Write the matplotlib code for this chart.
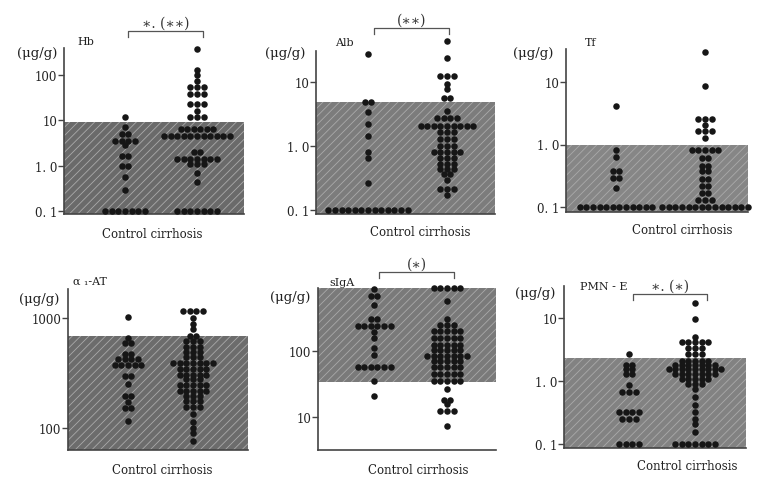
import numpy as np
import matplotlib
matplotlib.use('Agg')
import matplotlib.pyplot as plt
from matplotlib.patches import Rectangle
from matplotlib.ticker import NullLocator
from collections import Counter

# ── Data (µg/g) ───────────────────────────────────────────────
hb_control = [12, 7.2] + [5]*2 + [3.5]*4 + [2.8] + [1.65]*2 + [1.0]*2 + [0.55, 0.29] + [0.1]*7
hb_cirrhosis = ([375, 131, 100, 75] + [53]*3 + [39]*3 + [23]*3 + [16] + [11.6]*3
                + [6.5]*6 + [4.6]*11 + [2.0]*2 + [1.4]*7 + [1.08]*3 + [0.68, 0.43] + [0.1]*7)

alb_control = [27] + [4.8]*2 + [3.4, 2.2, 1.45, 0.8, 0.64, 0.26] + [0.1]*13
alb_cirrhosis = ([44, 23.6] + [12.3]*3 + [9.3, 7.8] + [5.7]*2 + [3.5] + [2.7]*4 + [2.07]*9
                 + [1.64]*3 + [1.29]*3 + [1.01]*3 + [0.8]*5 + [0.64]*3 + [0.52]*3 + [0.44]*3
                 + [0.36]*2 + [0.29] + [0.21]*3 + [0.17])

tf_control = [4.2, 0.82, 0.62] + [0.38]*2 + [0.29]*2 + [0.2] + [0.1]*12
tf_cirrhosis = ([30.5, 8.5] + [2.6]*3 + [2.07] + [1.66]*3 + [1.26] + [0.82]*5 + [0.6]*2
                + [0.46]*2 + [0.37]*2 + [0.28]*2 + [0.22]*2 + [0.166]*2 + [0.13]*3 + [0.1]*14)

a1at_control = ([1015, 654] + [592]*2 + [471]*2 + [424]*4 + [374]*5 + [299]*2 + [251]
                + [197]*2 + [171] + [151]*2 + [116])
a1at_cirrhosis = ([1165]*4 + [1000, 882, 794] + [691]*2 + [623]*3 + [542]*3 + [488]*3 + [439]*3
                  + [390]*7 + [344]*5 + [303]*5 + [279]*3 + [248]*5 + [219]*5 + [197]*3
                  + [177]*3 + [154]*3 + [134, 113, 100, 90, 76])

siga_control = [880] + [681]*2 + [491] + [301]*2 + [239]*6 + [194, 159, 111, 86] + [57]*6 + [35, 21]
siga_cirrhosis = ([900]*5 + [565, 309] + [251]*3 + [198]*5 + [157]*5 + [125]*5 + [102]*5
                  + [84]*7 + [70]*5 + [57]*5 + [45]*5 + [35]*5 + [27] + [18]*2 + [15.5]
                  + [12.2]*3 + [7.3])

pmn_control = [2.65] + [1.8]*2 + [1.57]*2 + [1.3]*2 + [0.85] + [0.67]*3 + [0.32]*4 + [0.25]*3 + [0.1]*4
pmn_cirrhosis = ([17.3, 9.5, 5] + [4.2]*5 + [3.3]*3 + [2.7]*3 + [2.1]*5 + [1.77]*7 + [1.57]*9
                 + [1.3]*7 + [1.09]*5 + [0.91]*3 + [0.75, 0.56, 0.41, 0.32, 0.25, 0.21, 0.155]
                 + [0.1]*7)

names = ['Hb', 'Alb', 'Tf', 'α ₁-AT', 'sIgA', 'PMN - E']
groups = [(hb_control, hb_cirrhosis), (alb_control, alb_cirrhosis), (tf_control, tf_cirrhosis),
          (a1at_control, a1at_cirrhosis), (siga_control, siga_cirrhosis), (pmn_control, pmn_cirrhosis)]
tick_vals = [[0.1, 1, 10, 100], [0.1, 1, 10], [0.1, 1, 10], [100, 1000], [10, 100], [0.1, 1, 10]]
tick_text = {0.1: '0. 1', 1: '1. 0', 10: '10', 100: '100', 1000: '1000'}
normal_range = [(None, 9), (None, 4.9), (None, 1.0), (None, 685), (34, None), (None, 2.3)]
signif = ['∗. (∗∗)', '(∗∗)', None, None, '(∗)', '∗. (∗)']

# ── Layout in pixels ──────────────────────────────────────────
W, H = 765, 489
# spine x, right x, top y, bottom y, (tick value, y px) x2, group centres
geom = [
    (64, 244, 49, 215, (100, 76), (0.1, 212), (61, 133)),
    (316, 495, 52, 215, (10, 83), (0.1, 211), (52, 131)),
    (566, 748, 50, 213, (10, 83), (0.1, 208), (50, 139)),
    (68, 248, 290, 451, (1000, 319), (100, 429), (60, 125)),
    (318, 496, 289, 451, (100, 352), (10, 418), (56, 129)),
    (564, 746, 287, 449, (10, 319), (0.1, 445), (65, 131)),
]
name_pos = [(77, 42), (335, 43), (585, 43), (73, 282), (329, 283), (580, 287)]
unit_pos = [(37, 53), (285, 53), (533, 53), (39, 299), (290, 297), (535, 293)]
bracket = [(128, 203, 32), (374, 449, 29), None, None, (379, 454, 273), (633, 707, 295)]
xlab_pos = [(152, 234), (420, 232), (682, 230), (162, 470), (418, 470), (687, 466)]
shade_col = ['#6a6a6a', '#7c7c7c', '#868686', '#6c6c6c', '#7a7a7a', '#828282']

plt.rcParams['font.family'] = 'DejaVu Serif'
plt.rcParams['hatch.linewidth'] = 0.6
fig = plt.figure(figsize=(W / 100, H / 100), dpi=100)
ink = '#161616'
step = 6.6

for i, (x0, x1, yt, yb, (v1, p1), (v2, p2), centres) in enumerate(geom):
    ax = fig.add_axes([x0 / W, 1 - yb / H, (x1 - x0) / W, (yb - yt) / H])
    ppd = (p2 - p1) / (np.log10(v1) - np.log10(v2))
    ytop = 10 ** (np.log10(v1) + (p1 - yt) / ppd)
    ybot = 10 ** (np.log10(v2) - (yb - p2) / ppd)
    ax.set_yscale('log')
    ax.set_ylim(ybot, ytop)
    ax.set_xlim(0, x1 - x0)

    lo, hi = normal_range[i]
    lo = ybot if lo is None else lo
    hi = ytop if hi is None else hi
    ax.add_patch(Rectangle((0, lo), x1 - x0, hi - lo, facecolor=shade_col[i],
                           edgecolor='#aaaaaa', hatch='////', linewidth=0, zorder=1))

    for vals, cx in zip(groups[i], centres):
        xs, ys = [], []
        for v, n in Counter(vals).items():
            off = (np.arange(n) - (n - 1) / 2) * step
            xs.extend(cx + off)
            ys.extend([v] * n)
        ax.scatter(xs, ys, s=22, color=ink, linewidths=0, zorder=3, clip_on=False)

    ax.set_yticks(tick_vals[i])
    ax.set_yticklabels([tick_text[t] for t in tick_vals[i]])
    ax.yaxis.set_minor_locator(NullLocator())
    ax.set_xticks([])
    ax.tick_params(axis='y', direction='out', length=4, width=1, color='#444',
                   labelsize=8.5, labelcolor='#222', pad=1)
    for s in ['top', 'right']:
        ax.spines[s].set_visible(False)
    for s in ['left', 'bottom']:
        ax.spines[s].set_color('#444')
        ax.spines[s].set_linewidth(1.2)
    ax.patch.set_alpha(0)

# ── Overlay for labels and brackets (pixel coordinates) ──────
ov = fig.add_axes([0, 0, 1, 1])
ov.set_xlim(0, W)
ov.set_ylim(H, 0)
ov.axis('off')

for i in range(6):
    ov.text(*name_pos[i], names[i], fontsize=8, color='#222', ha='left', va='center')
    ov.text(*unit_pos[i], '(μg/g)', fontsize=9.5, color='#222', ha='center', va='center')
    ov.text(*xlab_pos[i], 'Control cirrhosis', fontsize=8.5, color='#222',
            ha='center', va='center')
    if bracket[i] is not None:
        bx0, bx1, by = bracket[i]
        ov.plot([bx0, bx0, bx1, bx1], [by + 6, by, by, by + 6], color='#555', lw=0.9)
        ov.text((bx0 + bx1) / 2, by - 8, signif[i], fontsize=10, color='#333',
                ha='center', va='center')

fig.savefig('out.png', dpi=100)
